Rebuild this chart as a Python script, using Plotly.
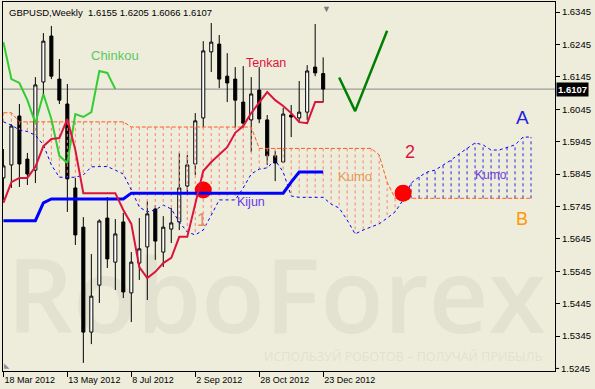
import pandas as pd
import plotly.graph_objects as go

# ---------------- data ----------------
chart_title = "GBPUSD,Weekly  1.6155 1.6205 1.6066 1.6107"
first_week = "2012-03-18"

opens = [1.5833, 1.5873, 1.6024, 1.5891, 1.5857, 1.6129, 1.6271, 1.6138, 1.6061, 1.5802,
         1.5681, 1.5357, 1.5502, 1.5709, 1.5573, 1.5697, 1.5478, 1.5570, 1.5620, 1.5737,
         1.5604, 1.5675, 1.5697, 1.5808, 1.5876, 1.6018, 1.6222, 1.6246, 1.6147, 1.6138,
         1.6067, 1.6012, 1.6104, 1.6012, 1.5901, 1.5882, 1.6027, 1.6018, 1.6036, 1.6175,
         1.6155]
highs = [1.5922, 1.5999, 1.6061, 1.5910, 1.6144, 1.6280, 1.6302, 1.6200, 1.6123, 1.5833,
         1.5712, 1.5598, 1.5705, 1.5774, 1.5706, 1.5725, 1.5604, 1.5709, 1.5762, 1.5749,
         1.5715, 1.5740, 1.5910, 1.5904, 1.6033, 1.6255, 1.6311, 1.6274, 1.6218, 1.6175,
         1.6178, 1.6144, 1.6175, 1.6027, 1.5916, 1.6049, 1.6058, 1.6132, 1.6181, 1.6308,
         1.6205]
lows = [1.5765, 1.5802, 1.5805, 1.5811, 1.5817, 1.6086, 1.6138, 1.6061, 1.5728, 1.5626,
        1.5262, 1.5320, 1.5447, 1.5555, 1.5487, 1.5462, 1.5388, 1.5518, 1.5456, 1.5580,
        1.5558, 1.5632, 1.5672, 1.5780, 1.5842, 1.5990, 1.6160, 1.6110, 1.6067, 1.5987,
        1.5987, 1.5913, 1.6002, 1.5873, 1.5823, 1.5880, 1.5959, 1.6005, 1.6012, 1.6147,
        1.6066]
closes = [1.5870, 1.5993, 1.5876, 1.5845, 1.6120, 1.6255, 1.6147, 1.6073, 1.5830, 1.5657,
          1.5357, 1.5468, 1.5700, 1.5583, 1.5660, 1.5481, 1.5573, 1.5614, 1.5722, 1.5638,
          1.5681, 1.5694, 1.5802, 1.5873, 1.6009, 1.6225, 1.6252, 1.6138, 1.6126, 1.6073,
          1.6002, 1.6092, 1.6015, 1.5901, 1.5879, 1.6030, 1.6021, 1.6036, 1.6163, 1.6157,
          1.6107]

tenkan = [1.5756, 1.5820, 1.5833, 1.5833, 1.5867, 1.5931, 1.5953, 1.5956, 1.6015, 1.5919,
          1.5786, 1.5786, 1.5786, 1.5786, 1.5786, 1.5734, 1.5691, 1.5558, 1.5524, 1.5543,
          1.5570, 1.5586, 1.5651, 1.5651, 1.5756, 1.5854, 1.5882, 1.5904, 1.5928, 1.5972,
          1.5993, 1.6033, 1.6067, 1.6098, 1.6073, 1.6055, 1.6033, 1.6005, 1.6002, 1.6067,
          1.6067]
kijun = [1.5701, 1.5701, 1.5701, 1.5701, 1.5701, 1.5756, 1.5768, 1.5768, 1.5768, 1.5768,
         1.5768, 1.5768, 1.5768, 1.5768, 1.5768, 1.5768, 1.5786, 1.5786, 1.5786, 1.5786,
         1.5786, 1.5786, 1.5786, 1.5786, 1.5786, 1.5786, 1.5786, 1.5786, 1.5786, 1.5786,
         1.5786, 1.5786, 1.5786, 1.5786, 1.5786, 1.5786, 1.5820, 1.5851, 1.5851, 1.5851,
         1.5851]
senkou_a = [1.6006, 1.5996, 1.5981, 1.5976, 1.5965, 1.5935, 1.5873, 1.5835, 1.5835, 1.5835,
            1.5842, 1.5867, 1.5868, 1.5868, 1.5857, 1.5845, 1.5796, 1.5743, 1.5728, 1.5734,
            1.5749, 1.5737, 1.5697, 1.5666, 1.5657, 1.5672, 1.5718, 1.5765, 1.5765, 1.5765,
            1.5802, 1.5845, 1.5860, 1.5864, 1.5888, 1.5851, 1.5777, 1.5773, 1.5773, 1.5773,
            1.5773, 1.5752, 1.5740, 1.5703, 1.5660, 1.5672, 1.5681, 1.5691, 1.5709, 1.5728,
            1.5765, 1.5817, 1.5836, 1.5851, 1.5857, 1.5873, 1.5888, 1.5907, 1.5925, 1.5941,
            1.5935, 1.5919, 1.5919, 1.5928, 1.5935, 1.5959, 1.5959]
senkou_b = [1.6034, 1.6034, 1.6006, 1.6006, 1.6006, 1.6006, 1.6006, 1.6006, 1.6006, 1.6006,
            1.6006, 1.6006, 1.6006, 1.6006, 1.6006, 1.6006, 1.5990, 1.5990, 1.5990, 1.5990,
            1.5990, 1.5990, 1.5990, 1.5990, 1.5990, 1.5990, 1.5990, 1.5990, 1.5990, 1.5990,
            1.5990, 1.5990, 1.5924, 1.5924, 1.5924, 1.5924, 1.5924, 1.5924, 1.5924, 1.5924,
            1.5924, 1.5924, 1.5924, 1.5924, 1.5924, 1.5924, 1.5924, 1.5904, 1.5820, 1.5770,
            1.5770, 1.5770, 1.5770, 1.5770, 1.5770, 1.5770, 1.5770, 1.5770, 1.5770, 1.5770,
            1.5770, 1.5770, 1.5770, 1.5770, 1.5770, 1.5770, 1.5770]
chikou_shift = 26

tick_weeks = [0, 8, 16, 24, 32, 40]
tick_labels = ["18 Mar 2012", "13 May 2012", "8 Jul 2012", "2 Sep 2012", "28 Oct 2012", "23 Dec 2012"]
price_ticks = [1.5245, 1.5345, 1.5445, 1.5545, 1.5645, 1.5745, 1.5845, 1.5945,
               1.6045, 1.6145, 1.6245, 1.6345]
price_range = [1.52370, 1.63759]
last_price = 1.6107

check_weeks = [42, 44, 48]
check_prices = [1.6143, 1.6039, 1.6287]
dot_weeks = [25, 50]
dot_prices = [1.5796, 1.5786]

label_texts = ["Chinkou", "Tenkan", "Kijun", "Kumo", "Kumo", "2", "1", "A", "B"]
label_weeks = [14.0, 32.9, 31.0, 43.95, 61.0, 50.9, 24.9, 64.9, 64.9]
label_prices = [1.6212, 1.6189, 1.5759, 1.5837, 1.5843, 1.5914, 1.5703, 1.6019, 1.5705]
label_colors = ["#5CC85C", "#DC143C", "#6A35F0", "#E59A55", "#6A3CD8", "#DC143C", "#E58A70",
                "#2222DD", "#FF9900"]
label_sizes = [13, 12.5, 12.5, 13, 12, 18, 18, 19, 18]

# ---------------- helpers ----------------
start = pd.Timestamp(first_week)


def wk(i):
    return start + pd.Timedelta(days=7 * i)


def price_frac(p):
    return (p - price_range[0]) / (price_range[1] - price_range[0])


all_dates = [wk(i) for i in range(len(senkou_a))]
candle_dates = all_dates[:len(closes)]

BG = "#EEEDDC"
AXIS_FONT = dict(family="Liberation Sans, Arial", size=9.5, color="black")
fig = go.Figure()

# candles (box layer, below all scatter traces)
fig.add_trace(go.Candlestick(
    x=candle_dates, open=opens, high=highs, low=lows, close=closes,
    increasing=dict(line=dict(color="black", width=1), fillcolor="white"),
    decreasing=dict(line=dict(color="black", width=1), fillcolor="black"),
    whiskerwidth=0, showlegend=False, hoverinfo="skip"))

# kumo hatching
ox, oy, bx, by = [], [], [], []
for d, a, b in zip(all_dates, senkou_a, senkou_b):
    if b >= a:
        ox += [d, d, None]; oy += [b, a, None]
    else:
        bx += [d, d, None]; by += [b, a, None]
fig.add_trace(go.Scatter(x=ox, y=oy, mode="lines", line=dict(color="#F4866A", width=1, dash="3px,3px"),
                         showlegend=False, hoverinfo="skip", connectgaps=False))
fig.add_trace(go.Scatter(x=bx, y=by, mode="lines", line=dict(color="#2A2AE8", width=1, dash="3px,3px"),
                         showlegend=False, hoverinfo="skip", connectgaps=False))
# senkou spans
fig.add_trace(go.Scatter(x=all_dates, y=senkou_b, mode="lines",
                         line=dict(color="#FF5A1E", width=1, dash="4px,2px"), showlegend=False))
fig.add_trace(go.Scatter(x=all_dates, y=senkou_a, mode="lines",
                         line=dict(color="#0000FF", width=1, dash="3px,3px"), showlegend=False))

# red marks
fig.add_trace(go.Scatter(x=[wk(i) for i in dot_weeks], y=dot_prices, mode="markers",
                         marker=dict(color="#FF0000", size=17, line=dict(width=0)), showlegend=False))

# chinkou
fig.add_trace(go.Scatter(x=all_dates[:len(closes) - chikou_shift], y=closes[chikou_shift:], mode="lines",
                         line=dict(color="#33CC33", width=2), showlegend=False))
# kijun
fig.add_trace(go.Scatter(x=candle_dates, y=kijun, mode="lines",
                         line=dict(color="#0000FF", width=3), showlegend=False))
# tenkan
fig.add_trace(go.Scatter(x=candle_dates, y=tenkan, mode="lines",
                         line=dict(color="#DC143C", width=2), showlegend=False))
# hand drawn check mark
fig.add_trace(go.Scatter(x=[wk(i) for i in check_weeks], y=check_prices, mode="lines",
                         line=dict(color="#008000", width=2.5), showlegend=False))

annotations = []
for t, w, p, c, s in zip(label_texts, label_weeks, label_prices, label_colors, label_sizes):
    annotations.append(dict(x=wk(w), y=p, xref="x", yref="y", text=t, showarrow=False,
                            font=dict(family="Liberation Sans, Arial", size=s, color=c)))
annotations.append(dict(x=0, y=1, xref="paper", yref="paper", xanchor="left", yanchor="top",
                        xshift=4, yshift=-3, text=chart_title, showarrow=False,
                        font=dict(family="Liberation Sans, Arial", size=9.5, color="black")))
annotations.append(dict(x=1, y=last_price, xref="paper", yref="y", xanchor="left", yanchor="middle",
                        xshift=1, text="<b>%.4f</b>" % last_price, showarrow=False, bgcolor="black",
                        borderpad=1, font=dict(family="Liberation Sans, Arial", size=9.5, color="white")))
annotations.append(dict(x=wk(40.45), y=1, xref="x", yref="paper", yanchor="top",
                        yshift=2, text="▼", showarrow=False, font=dict(size=9, color="#7A7A7A")))
annotations.append(dict(x=0, y=0, xref="paper", yref="paper", xanchor="left", yanchor="bottom",
                        xshift=-1, yshift=-1, text="◣", showarrow=False, font=dict(size=7, color="#8A8F9A")))
# lowest price label, placed in paper units so it cannot be dropped at the range edge
annotations.append(dict(x=1, y=price_frac(price_ticks[0]), xref="paper", yref="paper",
                        xanchor="left", yanchor="middle", xshift=4,
                        text="%.4f" % price_ticks[0], showarrow=False, font=AXIS_FONT))

shapes = [
    dict(type="line", xref="paper", x0=0, x1=1, yref="y", y0=last_price, y1=last_price,
         line=dict(color="#8A8A8A", width=1), layer="below"),
    dict(type="line", xref="paper", x0=1, x1=1.0075, yref="paper",
         y0=price_frac(price_ticks[0]), y1=price_frac(price_ticks[0]),
         line=dict(color="black", width=1)),
    dict(type="rect", xref="paper", yref="paper", x0=0.0, x1=0.99, y0=0.06, y1=0.33,
         line=dict(width=0), fillcolor="rgba(0,0,0,0)", layer="below",
         label=dict(text="RoboForex", textposition="middle center",
                    font=dict(family="Open Sans", size=104, color="#E3E2D1", weight=600))),
    dict(type="rect", xref="paper", yref="paper", x0=0.465, x1=0.985, y0=0.015, y1=0.06,
         line=dict(width=0), fillcolor="rgba(0,0,0,0)", layer="below",
         label=dict(text="ИСПОЛЬЗУЙ РОБОТОВ – ПОЛУЧАЙ ПРИБЫЛЬ", textposition="middle center",
                    font=dict(family="Open Sans", size=12.5, color="#E2E1D0"))),
]

fig.update_layout(
    width=595, height=389,
    margin=dict(l=3, r=40, t=2, b=18),
    paper_bgcolor=BG, plot_bgcolor=BG,
    showlegend=False,
    boxgap=0.45, boxgroupgap=0.3,
    annotations=annotations, shapes=shapes,
    xaxis=dict(type="date", range=[wk(-0.05), wk(69.0)], rangeslider=dict(visible=False),
               tickvals=[wk(i) for i in tick_weeks], ticktext=tick_labels,
               ticks="outside", ticklen=5, tickcolor="black", ticklabelposition="outside right",
               showgrid=False, zeroline=False, showline=True, linecolor="black", linewidth=1, mirror=True,
               tickfont=dict(family="Liberation Sans, Arial", size=9, color="black")),
    yaxis=dict(side="right", range=price_range, tickvals=price_ticks[1:], tickformat=".4f",
               ticks="outside", ticklen=4, tickcolor="black",
               showgrid=False, zeroline=False, showline=True, linecolor="black", linewidth=1, mirror=True,
               tickfont=AXIS_FONT),
)

fig.write_html("out.html")
